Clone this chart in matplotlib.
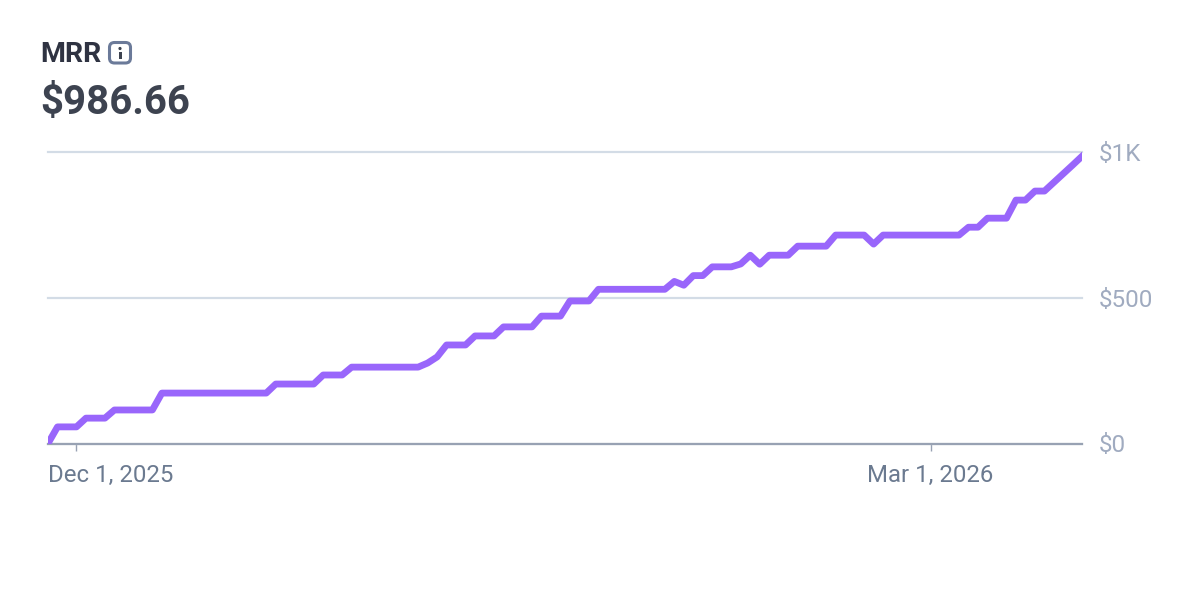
import pandas as pd
import matplotlib
matplotlib.use('Agg')
import matplotlib.pyplot as plt
import matplotlib.transforms as mtrans
from matplotlib.patches import FancyBboxPatch, Rectangle, Circle

plt.rcParams['font.family'] = ['Roboto', 'DejaVu Sans']

# daily MRR
start_date = '2025-11-28'
mrr = [
    0, 57, 57, 57, 87, 87, 87, 115, 115, 115, 115, 115,
    173, 173, 173, 173, 173, 173, 173, 173, 173, 173, 173, 173,
    204, 204, 204, 204, 204, 235, 235, 235,
    262, 262, 262, 262, 262, 262, 262, 262, 276, 297,
    338, 338, 338, 369, 369, 369, 400, 400, 400, 400,
    437, 437, 437, 489, 489, 489,
    529, 529, 529, 529, 529, 529, 529, 529,
    556, 543, 576, 576, 606, 606, 606, 616, 646, 615, 646, 646, 646,
    677, 677, 677, 677, 715, 715, 715, 715, 684,
    715, 715, 715, 715, 715, 715, 715, 715, 715,
    742, 742, 773, 773, 773, 835, 835, 866, 866,
    896, 926, 956, 986.66,
]
dates = pd.date_range(start_date, periods=len(mrr), freq='D')

y_ticks = [0, 500, 1000]
y_labels = ['$0', '$500', '$1K']
x_ticks = ['2025-12-01', '2026-03-01']
x_labels = ['Dec 1, 2025', 'Mar 1, 2026']

W, H = 1200, 600
fig = plt.figure(figsize=(12, 6), dpi=100, facecolor='white')
ax = fig.add_axes([48 / W, 1 - 443.5 / H, (1082.4 - 48) / W, (443.5 - 152) / H])

ax.plot(dates, mrr, color='#9966fb', lw=4.9, solid_joinstyle='round', zorder=3)
ax.set_xlim(dates[0], dates[-1])
ax.set_ylim(0, 1000)

for s in ['top', 'left', 'right']:
    ax.spines[s].set_visible(False)
ax.spines['bottom'].set_color('#98a2b3')
ax.spines['bottom'].set_linewidth(1.6)

ax.yaxis.tick_right()
ax.set_yticks(y_ticks)
ax.set_yticklabels(y_labels, fontsize=17.5, color='#a0abc0')
ax.tick_params(axis='y', length=0, pad=11.5)
ax.grid(axis='y', color='#d3dce6', lw=1.6, zorder=1)
# top gridline sits on the axes edge, keep its full width
for gl in ax.get_ygridlines():
    gl.set_clip_on(False)

ax.set_xticks(pd.to_datetime(x_ticks))
ax.set_xticklabels(x_labels, fontsize=17.3, color='#6b7a90')
ax.tick_params(axis='x', length=5, width=1, color='#98a2b3', pad=9.5)

# first label hugs the left edge of the plot instead of centring on its tick
first = ax.get_xticklabels()[0]
first.set_horizontalalignment('left')
first.set_transform(first.get_transform() + mtrans.ScaledTranslation(-28 / 100, 0, fig.dpi_scale_trans))

fig.text(40 / W, 1 - 55 / H, 'MRR', fontsize=20.5, fontweight='bold', color='#2f3342', va='center', ha='left')
fig.text(40 / W, 1 - 103 / H, '$986.66', fontsize=29, fontweight='bold', color='#3d4350', va='center', ha='left')

# little info icon next to the title
px = fig.add_axes([0, 0, 1, 1], facecolor='none')
px.set_xlim(0, W)
px.set_ylim(H, 0)
px.axis('off')
px.add_patch(FancyBboxPatch((109.5, 42.5), 21, 20.5, boxstyle='round,pad=0,rounding_size=5',
                            fc='none', ec='#6b7a99', lw=2.2))
px.add_patch(Circle((120, 48.5), 1.6, fc='#3d4350', ec='none'))
px.add_patch(Rectangle((119, 52), 2.6, 6.5, fc='#3d4350', ec='none'))

fig.savefig('out.png', dpi=100, facecolor='white')
